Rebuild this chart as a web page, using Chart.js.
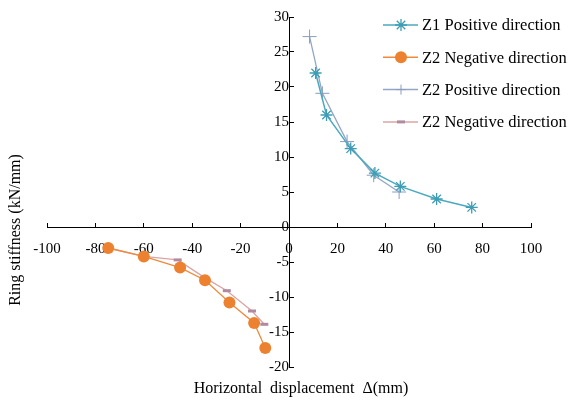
<!DOCTYPE html>
<html>
<head>
<meta charset="utf-8">
<script src="https://cdn.jsdelivr.net/npm/chart.js@4"></script>
<style>
  html, body { margin: 0; padding: 0; background: #fff; }
  #wrap { width: 577px; height: 401px; }
</style>
</head>
<body>
<div id="wrap"><canvas id="ringChart"></canvas></div>
<script>
// Values
const seriesNames = ["Z1 Positive direction", "Z2 Negative direction", "Z2 Positive direction", "Z2 Negative direction"];

const z1PosX = [11, 15.5, 25.5, 35.5, 46, 61, 75.5];
const z1PosY = [22, 16, 11.2, 7.7, 5.8, 4.0, 2.8];

const z2NegX = [-74.7, -60, -45, -34.7, -24.6, -14.4, -9.8];
const z2NegY = [-3.0, -4.2, -5.8, -7.6, -10.8, -13.7, -17.3];

const z2PosX = [8.5, 13.8, 24, 35, 45.5];
const z2PosY = [27.2, 19.1, 12.2, 7.4, 5.0];

const z2Neg2X = [-74.7, -60, -46, -35, -25.7, -15.3, -10.2];
const z2Neg2Y = [-3.0, -4.2, -4.7, -7.2, -9.1, -12.0, -13.9];

const xTicks = [-100, -80, -60, -40, -20, 0, 20, 40, 60, 80, 100];
const yTicks = [-20, -15, -10, -5, 0, 5, 10, 15, 20, 25, 30];

const FONT = "'Liberation Serif', 'Times New Roman', serif";

function toPoints(xs, ys) {
  return xs.map((x, i) => ({ x: x, y: ys[i] }));
}

// legend drawn inside the plot, like the original
const insideLegend = {
  id: "insideLegend",
  afterDraw(chart) {
    const ctx = chart.ctx;
    ctx.save();
    chart.data.datasets.forEach((ds, i) => {
      const y = 25 + i * 32.3;
      ctx.strokeStyle = ds.borderColor;
      ctx.lineWidth = 1.5;
      ctx.beginPath();
      ctx.moveTo(383, y);
      ctx.lineTo(418, y);
      ctx.stroke();
      ctx.fillStyle = ds.pointBackgroundColor;
      ctx.strokeStyle = ds.pointBorderColor;
      ctx.lineWidth = ds.pointBorderWidth;
      const r = ds.pointStyle === "cross" ? 5 : ds.pointRadius;
      Chart.helpers.drawPoint(ctx, { pointStyle: ds.pointStyle, radius: r, rotation: 0, borderWidth: ds.pointBorderWidth }, 401, y);
      ctx.fillStyle = "#000";
      ctx.font = "16.5px " + FONT;
      ctx.textBaseline = "middle";
      ctx.textAlign = "left";
      ctx.fillText(ds.label, 422, y + 1);
    });
    ctx.restore();
  }
};

// axis titles sit at the outer edges, not beside the centred axes
const axisTitles = {
  id: "axisTitles",
  afterDraw(chart) {
    const ctx = chart.ctx;
    ctx.save();
    ctx.fillStyle = "#000";
    ctx.font = "16px " + FONT;
    ctx.textAlign = "center";
    ctx.textBaseline = "middle";
    ctx.fillText("Horizontal  displacement  \u0394(mm)", 301, 389);
    ctx.translate(16, 230);
    ctx.rotate(-Math.PI / 2);
    ctx.fillText("Ring stiffness (kN/mm)", 0, 0);
    ctx.restore();
  }
};

const ctx = document.getElementById("ringChart").getContext("2d");
new Chart(ctx, {
  type: "scatter",
  data: {
    datasets: [
      {
        label: seriesNames[0],
        data: toPoints(z1PosX, z1PosY),
        showLine: true,
        borderColor: "#4BA9BF",
        borderWidth: 1.5,
        pointStyle: "star",
        pointRadius: 6,
        pointBorderWidth: 1.3,
        pointBorderColor: "#3E9DB5",
        pointBackgroundColor: "#3E9DB5"
      },
      {
        label: seriesNames[1],
        data: toPoints(z2NegX, z2NegY),
        showLine: true,
        borderColor: "#EE8A3C",
        borderWidth: 1.3,
        pointStyle: "circle",
        pointRadius: 6,
        pointBorderWidth: 0,
        pointBorderColor: "#EC8230",
        pointBackgroundColor: "#EC8230"
      },
      {
        label: seriesNames[2],
        data: toPoints(z2PosX, z2PosY),
        showLine: true,
        borderColor: "#93A6C6",
        borderWidth: 1.3,
        pointStyle: "cross",
        pointRadius: 7,
        pointBorderWidth: 1,
        pointBorderColor: "#8A9CBE",
        pointBackgroundColor: "#8A9CBE"
      },
      {
        label: seriesNames[3],
        data: toPoints(z2Neg2X, z2Neg2Y),
        showLine: true,
        borderColor: "#DDA4A4",
        borderWidth: 1.3,
        pointStyle: "line",
        pointRadius: 4,
        pointBorderWidth: 3,
        pointBorderColor: "#B08A9E",
        pointBackgroundColor: "#B08A9E"
      }
    ]
  },
  options: {
    responsive: true,
    maintainAspectRatio: false,
    animation: false,
    layout: { padding: { left: 47, right: 46, top: 17, bottom: 34 } },
    plugins: {
      legend: { display: false },
      tooltip: { enabled: false }
    },
    scales: {
      x: {
        type: "linear",
        position: { y: 0 },
        min: -100,
        max: 100,
        afterBuildTicks: (axis) => { axis.ticks = xTicks.map(v => ({ value: v })); },
        grid: { drawOnChartArea: false, tickLength: -5, color: "#000" },
        border: { color: "#000", width: 1 },
        ticks: { autoSkip: false, maxRotation: 0, padding: 18, color: "#000", font: { family: FONT, size: 15 } }
      },
      y: {
        type: "linear",
        position: { x: 0 },
        min: -20,
        max: 30,
        afterBuildTicks: (axis) => { axis.ticks = yTicks.map(v => ({ value: v })); },
        // label padding should not push the plot area down
        afterFit: (axis) => { axis.paddingTop = 0; axis.paddingBottom = 0; },
        grid: { drawOnChartArea: false, tickLength: -5, color: "#000" },
        border: { color: "#000", width: 1 },
        ticks: { autoSkip: false, padding: 16, color: "#000", font: { family: FONT, size: 15 } }
      }
    }
  },
  plugins: [insideLegend, axisTitles]
});
</script>
</body>
</html>
